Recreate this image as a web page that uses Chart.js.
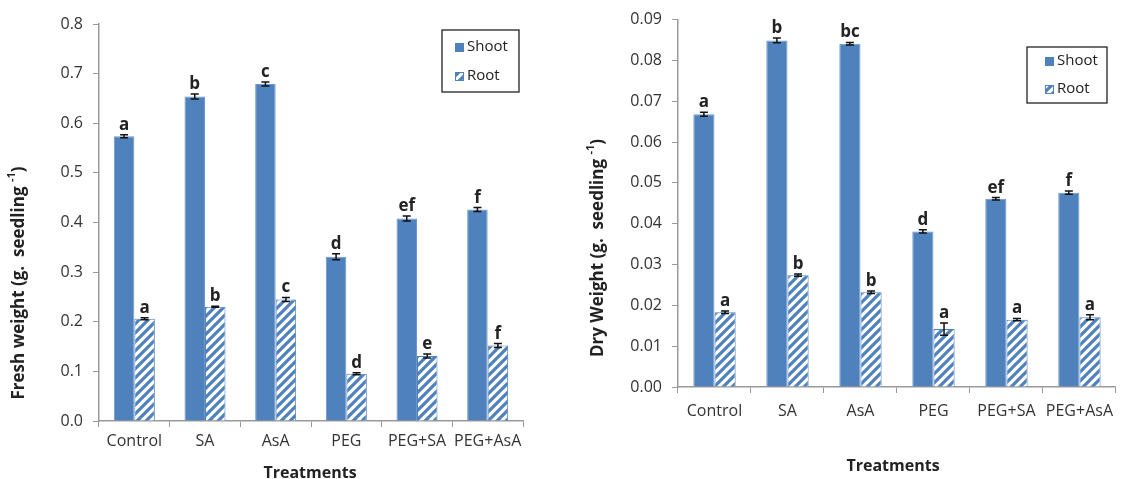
<!DOCTYPE html>
<html>
<head>
<meta charset="utf-8">
<script src="https://cdn.jsdelivr.net/npm/chart.js@4.4.1/dist/chart.umd.min.js"></script>
<style>
  body { margin: 0; background: #fff; }
  #wrap { position: relative; width: 1122px; height: 479px; }
  canvas { position: absolute; top: 0; }
  #fresh { left: 0; }
  #dry { left: 561px; }
</style>
</head>
<body>
<div id="wrap">
  <canvas id="fresh" width="561" height="479"></canvas>
  <canvas id="dry" width="561" height="479"></canvas>
</div>
<script>
const categories = ['Control', 'SA', 'AsA', 'PEG', 'PEG+SA', 'PEG+AsA'];

// fresh weight (g. seedling-1)
const freshShoot = [0.574, 0.654, 0.679, 0.331, 0.408, 0.426];
const freshShootErr = [0.003, 0.005, 0.004, 0.006, 0.005, 0.004];
const freshRoot = [0.206, 0.230, 0.245, 0.095, 0.131, 0.152];
const freshRootErr = [0.002, 0.001, 0.004, 0.002, 0.004, 0.004];
const freshShootLetters = ['a', 'b', 'c', 'd', 'ef', 'f'];
const freshRootLetters = ['a', 'b', 'c', 'd', 'e', 'f'];
const freshTicks = [0, 0.1, 0.2, 0.3, 0.4, 0.5, 0.6, 0.7, 0.8];

// dry weight (g. seedling-1)
const dryShoot = [0.0668, 0.0849, 0.0841, 0.0381, 0.0461, 0.0476];
const dryShootErr = [0.0005, 0.0006, 0.0003, 0.0004, 0.0003, 0.0004];
const dryRoot = [0.0183, 0.0274, 0.0232, 0.0142, 0.0165, 0.0171];
const dryRootErr = [0.0003, 0.0003, 0.0003, 0.0015, 0.0003, 0.0006];
const dryShootLetters = ['a', 'b', 'bc', 'd', 'ef', 'f'];
const dryRootLetters = ['a', 'b', 'b', 'a', 'a', 'a'];
const dryTicks = [0, 0.01, 0.02, 0.03, 0.04, 0.05, 0.06, 0.07, 0.08, 0.09];

const BLUE = '#4F81BD';
const FONT = '"Open Sans", "DejaVu Sans", sans-serif';

function hatch(color) {
  const n = 9;
  const c = document.createElement('canvas');
  c.width = c.height = n;
  const g = c.getContext('2d');
  g.fillStyle = '#fff';
  g.fillRect(0, 0, n, n);
  g.strokeStyle = color;
  g.lineWidth = 3.2;
  g.beginPath();
  g.moveTo(-2, n + 2); g.lineTo(n + 2, -2);
  g.moveTo(-n / 2 - 2, n / 2 + 2); g.lineTo(n / 2 + 2, -n / 2 - 2);
  g.moveTo(n / 2 - 2, n * 1.5 + 2); g.lineTo(n * 1.5 + 2, n / 2 - 2);
  g.stroke();
  return g.createPattern(c, 'repeat');
}
const rootFill = hatch(BLUE);

function drawYTitle(ctx, x, y, main, sup) {
  ctx.save();
  ctx.translate(x, y);
  ctx.rotate(-Math.PI / 2);
  ctx.fillStyle = '#222';
  ctx.textAlign = 'left';
  ctx.textBaseline = 'alphabetic';
  ctx.font = 'bold 17px ' + FONT;
  const w1 = ctx.measureText(main).width;
  const w3 = ctx.measureText(')').width;
  ctx.font = 'bold 11px ' + FONT;
  const w2 = ctx.measureText(sup).width;
  const sx = -(w1 + w2 + w3) / 2;
  ctx.font = 'bold 17px ' + FONT;
  ctx.fillText(main, sx, 6);
  ctx.fillText(')', sx + w1 + w2, 6);
  ctx.font = 'bold 11px ' + FONT;
  ctx.fillText(sup, sx + w1, -3);
  ctx.restore();
}

function makeChart(id, cfg) {
  const extras = {
    id: 'extras',
    afterDatasetsDraw(chart) {
      const ctx = chart.ctx;
      const y = chart.scales.y;
      ctx.save();
      chart.data.datasets.forEach((ds, i) => {
        const meta = chart.getDatasetMeta(i);
        meta.data.forEach((bar, j) => {
          const v = ds.data[j], e = cfg.errors[i][j];
          const top = y.getPixelForValue(v + e);
          const bot = y.getPixelForValue(v - e);
          ctx.strokeStyle = '#111';
          ctx.lineWidth = 1.5;
          ctx.beginPath();
          ctx.moveTo(bar.x, top); ctx.lineTo(bar.x, bot);
          ctx.moveTo(bar.x - 4, top); ctx.lineTo(bar.x + 4, top);
          ctx.moveTo(bar.x - 4, bot); ctx.lineTo(bar.x + 4, bot);
          ctx.stroke();
          ctx.fillStyle = '#222';
          ctx.font = 'bold 17px ' + FONT;
          ctx.textAlign = 'center';
          ctx.textBaseline = 'alphabetic';
          ctx.fillText(cfg.letters[i][j], bar.x, top - 5);
        });
      });

      // legend box
      const L = cfg.legend;
      ctx.strokeStyle = '#222';
      ctx.lineWidth = 1.3;
      ctx.strokeRect(L.x, L.y, L.w, L.h);
      chart.data.datasets.forEach((ds, i) => {
        const cy = L.y + L.rows[i];
        ctx.fillStyle = ds.backgroundColor;
        ctx.fillRect(L.x + L.sw, cy - 4, 9, 9);
        ctx.strokeStyle = BLUE;
        ctx.lineWidth = 1;
        ctx.strokeRect(L.x + L.sw + 0.5, cy - 3.5, 8, 8);
        ctx.fillStyle = '#222';
        ctx.font = '15px ' + FONT;
        ctx.textAlign = 'left';
        ctx.textBaseline = 'middle';
        ctx.fillText(ds.label, L.x + L.sw + 12, cy);
      });

      drawYTitle(ctx, cfg.yTitle.x, cfg.yTitle.y, cfg.yTitle.main, '-1');
      ctx.fillStyle = '#222';
      ctx.font = 'bold 16px ' + FONT;
      ctx.textAlign = 'center';
      ctx.textBaseline = 'middle';
      ctx.fillText('Treatments', cfg.xTitle.x, cfg.xTitle.y);
      ctx.restore();
    }
  };

  return new Chart(document.getElementById(id), {
    type: 'bar',
    data: {
      labels: categories,
      datasets: [
        { label: 'Shoot', data: cfg.shoot, backgroundColor: BLUE, borderColor: '#6A96CC', borderWidth: 1 },
        { label: 'Root', data: cfg.root, backgroundColor: rootFill, borderColor: BLUE, borderWidth: 1 }
      ]
    },
    options: {
      responsive: false,
      animation: false,
      devicePixelRatio: 1,
      layout: { padding: cfg.padding },
      datasets: { bar: { barPercentage: 1, categoryPercentage: 0.58 } },
      plugins: { legend: { display: false }, tooltip: { enabled: false } },
      scales: {
        x: {
          afterFit: s => { s.height = cfg.xHeight; },
          grid: { drawOnChartArea: false, drawTicks: true, tickLength: 6, color: '#999', offset: true },
          border: { color: '#999', width: 1.5 },
          ticks: { color: '#333', font: { family: FONT, size: 16 }, padding: cfg.xPad, maxRotation: 0, autoSkip: false }
        },
        y: {
          min: 0,
          max: cfg.ticks[cfg.ticks.length - 1],
          afterFit: s => { s.width = cfg.yWidth; },
          afterBuildTicks: s => { s.ticks = cfg.ticks.map(v => ({ value: v })); },
          grid: { drawOnChartArea: false, drawTicks: true, tickLength: 6, color: '#999' },
          border: { color: '#999', width: 1.5 },
          ticks: {
            color: '#333', font: { family: FONT, size: 16 }, padding: 10,
            callback: v => Number(v).toFixed(cfg.digits)
          }
        }
      }
    },
    plugins: [extras]
  });
}

makeChart('fresh', {
  shoot: freshShoot, root: freshRoot,
  errors: [freshShootErr, freshRootErr],
  letters: [freshShootLetters, freshRootLetters],
  ticks: freshTicks, digits: 1,
  padding: { top: 24, right: 38, left: 0, bottom: 0 },
  yWidth: 99, xHeight: 58, xPad: 5,
  legend: { x: 442, y: 30, w: 77, h: 62, sw: 13, rows: [17, 46] },
  yTitle: { x: 18, y: 283, main: 'Fresh weight (g.  seedling ' },
  xTitle: { x: 310, y: 473 }
});

makeChart('dry', {
  shoot: dryShoot, root: dryRoot,
  errors: [dryShootErr, dryRootErr],
  letters: [dryShootLetters, dryRootLetters],
  ticks: dryTicks, digits: 2,
  padding: { top: 19, right: 0, left: 0, bottom: 0 },
  yWidth: 117, xHeight: 92, xPad: 9,
  legend: { x: 466, y: 47, w: 80, h: 56, sw: 18, rows: [14, 42] },
  yTitle: { x: 36, y: 248, main: 'Dry Weight (g.  seedling ' },
  xTitle: { x: 332, y: 466 }
});
</script>
</body>
</html>
